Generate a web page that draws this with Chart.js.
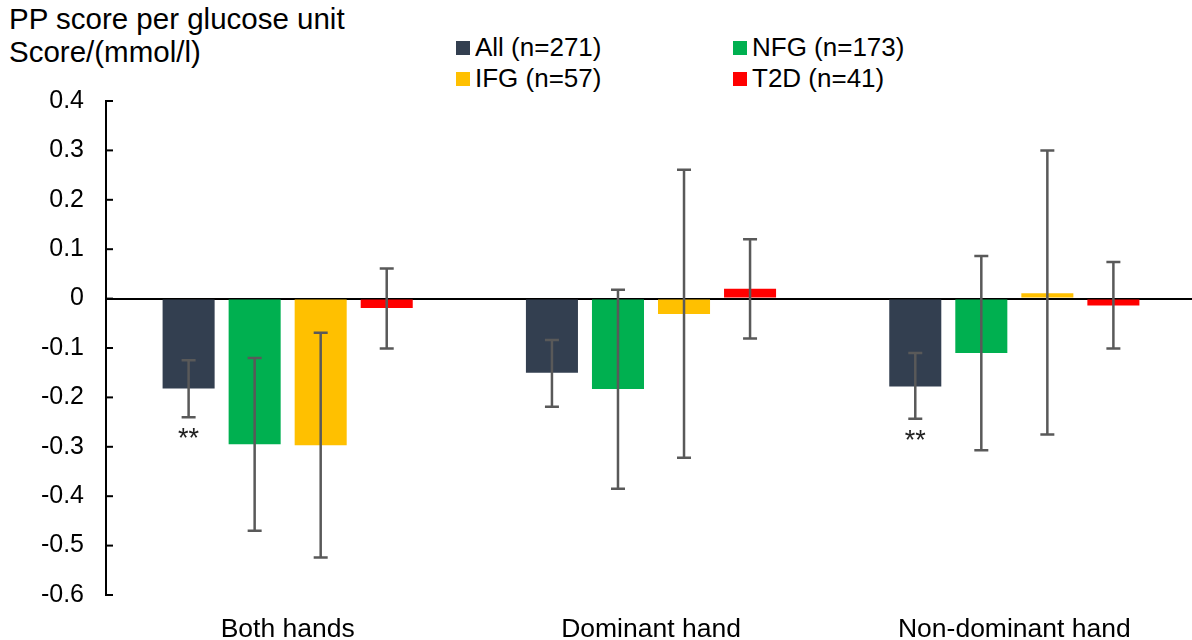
<!DOCTYPE html>
<html>
<head>
<meta charset="utf-8">
<script src="https://cdn.jsdelivr.net/npm/chart.js@4/dist/chart.umd.min.js"></script>
<style>
  html, body { margin: 0; padding: 0; background: #fff; overflow: hidden; }
  body { width: 1192px; height: 640px; position: relative; font-family: "Liberation Sans", Arial, sans-serif; color: #000; }
  #wrap { position: absolute; left: 0; top: 0; width: 1196px; height: 645px; }
  .title { position: absolute; left: 9px; font-size: 29.5px; line-height: 32px; white-space: nowrap; }
  .leg { position: absolute; font-size: 26px; line-height: 30px; white-space: nowrap; }
  .leg i { display: inline-block; width: 14px; height: 14px; margin-right: 5px; vertical-align: 1px; }
</style>
</head>
<body>
<div class="title" style="top:3px">PP score per glucose unit</div>
<div class="title" style="top:36px">Score/(mmol/l)</div>
<div id="legend"></div>
<div id="wrap"><canvas id="chart"></canvas></div>
<script>
// groups on the x axis
const categories = ['Both hands', 'Dominant hand', 'Non-dominant hand'];
const seriesNames = ['All (n=271)', 'NFG (n=173)', 'IFG (n=57)', 'T2D (n=41)'];
const seriesColors = ['#333f50', '#00b050', '#ffc000', '#ff0000'];

// means and error bar ends
const allMean = [-0.182, -0.150, -0.178];
const allLow  = [-0.240, -0.219, -0.243];
const allHigh = [-0.125, -0.084, -0.110];

const nfgMean = [-0.295, -0.183, -0.110];
const nfgLow  = [-0.470, -0.385, -0.307];
const nfgHigh = [-0.120, 0.018, 0.086];

const ifgMean = [-0.297, -0.031, 0.011];
const ifgLow  = [-0.524, -0.322, -0.275];
const ifgHigh = [-0.069, 0.261, 0.300];

const t2dMean = [-0.019, 0.020, -0.014];
const t2dLow  = [-0.101, -0.081, -0.101];
const t2dHigh = [0.061, 0.120, 0.074];

// significance marks under the "All" bars
const allStars = ['**', '', '**'];

const yMin = -0.6, yMax = 0.4, yStep = 0.1;

// html legend, 2x2 like the original
const legendPos = [[456, 32], [733, 32], [456, 63], [733, 63]];
document.getElementById('legend').innerHTML = seriesNames.map((n, i) =>
  `<div class="leg" style="left:${legendPos[i][0]}px;top:${legendPos[i][1]}px"><i style="background:${seriesColors[i]}"></i>${n}</div>`
).join('');

const means = [allMean, nfgMean, ifgMean, t2dMean];
const lows = [allLow, nfgLow, ifgLow, t2dLow];
const highs = [allHigh, nfgHigh, ifgHigh, t2dHigh];

const errorBars = {
  id: 'errorBars',
  afterDatasetsDraw(chart) {
    const ctx = chart.ctx;
    const y = chart.scales.y;
    ctx.save();
    ctx.strokeStyle = '#595959';
    ctx.lineWidth = 2.5;
    chart.data.datasets.forEach((ds, di) => {
      const meta = chart.getDatasetMeta(di);
      meta.data.forEach((bar, i) => {
        const yl = y.getPixelForValue(ds.errLow[i]);
        const yh = y.getPixelForValue(ds.errHigh[i]);
        ctx.beginPath();
        ctx.moveTo(bar.x, yl); ctx.lineTo(bar.x, yh);
        ctx.moveTo(bar.x - 7, yl); ctx.lineTo(bar.x + 7, yl);
        ctx.moveTo(bar.x - 7, yh); ctx.lineTo(bar.x + 7, yh);
        ctx.stroke();
        if (ds.stars && ds.stars[i]) {
          ctx.fillStyle = '#222';
          ctx.font = '27px "Liberation Sans", Arial, sans-serif';
          ctx.textAlign = 'center';
          ctx.textBaseline = 'top';
          ctx.fillText(ds.stars[i], bar.x, yl + 9);
        }
      });
    });
    // inside tick marks on the y axis
    ctx.strokeStyle = '#000';
    ctx.lineWidth = 2;
    y.ticks.forEach(t => {
      const py = y.getPixelForValue(t.value);
      ctx.beginPath();
      ctx.moveTo(y.right, py); ctx.lineTo(y.right + 7, py);
      ctx.stroke();
    });
    ctx.restore();
  }
};

new Chart(document.getElementById('chart'), {
  type: 'bar',
  data: {
    labels: categories,
    datasets: seriesNames.map((n, i) => ({
      label: n,
      data: means[i],
      errLow: lows[i],
      errHigh: highs[i],
      stars: i === 0 ? allStars : null,
      backgroundColor: seriesColors[i],
      borderWidth: 0,
      categoryPercentage: 0.727,
      barPercentage: 0.788
    }))
  },
  options: {
    responsive: true,
    maintainAspectRatio: false,
    animation: false,
    layout: { padding: { top: 101, right: 0, bottom: 0, left: 0 } },
    plugins: { legend: { display: false }, tooltip: { enabled: false } },
    scales: {
      x: {
        grid: { display: false, drawTicks: false },
        border: { display: false },
        ticks: { color: '#000', padding: 19, maxRotation: 0, font: { family: '"Liberation Sans", Arial, sans-serif', size: 26.5 } },
        afterFit: s => { s.height = 50; }
      },
      y: {
        min: yMin, max: yMax,
        ticks: {
          stepSize: yStep, color: '#000', padding: 22,
          font: { family: '"Liberation Sans", Arial, sans-serif', size: 25 },
          callback: v => String(Math.round(v * 10) / 10)
        },
        grid: {
          drawTicks: false,
          color: c => Math.abs(c.tick.value) < 1e-9 ? '#000' : 'rgba(0,0,0,0)',
          lineWidth: 2
        },
        border: { display: true, color: '#000', width: 2 },
        afterFit: s => { s.width = 106; }
      }
    }
  },
  plugins: [errorBars]
});
</script>
</body>
</html>
